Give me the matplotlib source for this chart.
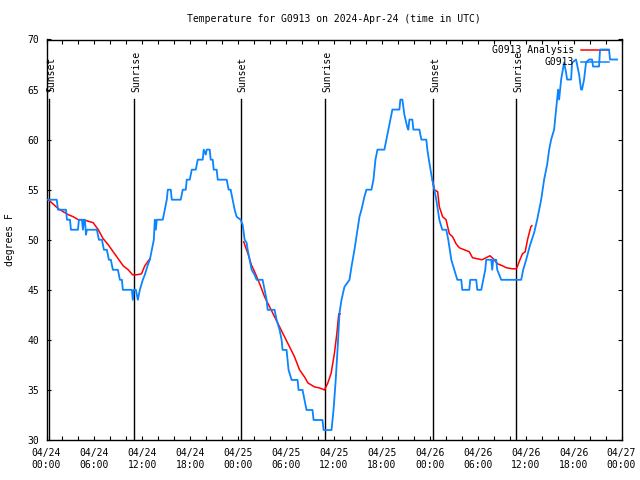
import numpy as np
import matplotlib
matplotlib.use('Agg')
import matplotlib.pyplot as plt
from matplotlib.lines import Line2D

plt.rcParams['font.family'] = 'DejaVu Sans Mono'
plt.rcParams['font.size'] = 7

# hours since 2024-04-24 00:00 UTC
obs_hours = [0.19, 1.28, 1.44, 2.44, 2.56, 2.94, 3.06, 3.94, 4.06, 4.44, 4.56, 4.69, 4.81, 4.94, 5.06,
             6.31, 6.56, 6.94, 7.19, 7.56, 7.81, 8.06, 8.31, 8.94, 9.19, 9.44, 9.56, 10.69, 10.81, 10.94,
             11.19, 11.44, 11.69, 12.06, 12.31, 12.69, 12.94, 13.19, 13.44, 13.56, 13.69, 13.81, 14.56,
             14.81, 15.06, 15.19, 15.56, 15.69, 16.81, 17.06, 17.44, 17.56, 17.94, 18.19, 18.69, 18.94,
             19.56, 19.69, 19.94, 20.06, 20.44, 20.56, 20.81, 20.94, 21.31, 21.44, 22.56, 22.81, 23.06,
             23.31, 23.56, 23.81, 24.31, 24.56, 24.81, 25.06, 25.19, 25.44, 25.69, 26.06, 26.31, 27.06,
             27.31, 27.56, 27.69, 28.56, 28.81, 29.19, 29.44, 29.56, 30.06, 30.19, 30.31, 30.69, 31.44,
             31.56, 32.06, 32.31, 32.56, 33.31, 33.44, 34.56, 34.69, 35.69, 35.94, 36.19, 36.44, 36.69,
             36.94, 37.31, 37.94, 38.19, 38.56, 38.94, 39.19, 39.44, 39.81, 40.06, 40.69, 40.94, 41.19,
             41.44, 42.31, 42.56, 42.81, 43.06, 43.31, 44.19, 44.31, 44.56, 44.81, 45.19, 45.31, 45.44,
             45.81, 45.94, 46.69, 46.94, 47.56, 47.69, 47.94, 48.19, 48.44, 48.69, 48.81, 49.19, 49.56,
             50.06, 50.31, 50.69, 51.06, 51.44, 51.94, 52.06, 52.94, 53.06, 53.81, 53.94, 54.44, 54.69,
             54.94, 55.06, 55.69, 55.81, 55.94, 56.31, 56.44, 56.94, 59.44, 59.69, 60.06, 60.56, 61.06,
             61.44, 61.94, 62.31, 62.69, 62.94, 63.19, 63.56, 63.81, 63.94, 64.06, 64.19, 64.44, 64.81,
             65.06, 65.19, 65.69, 65.81, 66.31, 66.69, 66.94, 67.06, 67.31, 67.56, 67.94, 68.31, 68.44,
             69.19, 69.31, 70.44, 70.56, 71.44]
obs_temp = [54, 54, 53, 53, 52, 52, 51, 51, 52, 52, 51, 52, 52, 50.5, 51,
            51, 50, 50, 49, 49, 48, 48, 47, 47, 46, 46, 45, 45, 44, 45,
            45, 44, 45, 46, 46.5, 47.5, 48, 49, 50, 52, 51, 52, 52,
            53, 54, 55, 55, 54, 54, 55, 55, 56, 56, 57, 57, 58,
            58, 59, 58.5, 59, 59, 58, 58, 57, 57, 56, 56, 55, 55,
            54, 53, 52.3, 52, 51.5, 50, 49.7, 49, 48, 47, 46.5, 46, 46,
            45, 44, 43, 43, 42, 41, 40, 39, 39, 38, 37, 36, 36,
            35, 35, 34, 33, 33, 32, 32, 31, 31, 33, 35.7, 39, 42.7,
            44, 45.3, 46, 47.3, 49, 51, 52.3, 53, 54.3, 55, 55, 56, 58,
            59, 59, 60, 61, 62, 63, 63, 64, 64, 62.5, 61.2, 61, 62,
            62, 61, 61, 60, 60, 59, 57.7, 56.5, 55.5, 54.5, 54, 52, 51,
            51, 50, 48, 47, 46, 46, 45, 45, 46, 46, 45, 45, 46,
            47, 48, 48, 47, 48, 48, 47, 46, 46, 47, 48, 49.5, 50.7,
            52, 54, 56, 57.5, 59, 60, 61, 63, 64, 65, 64, 66, 67.7,
            66.7, 66, 66, 67.7, 68, 66.5, 65, 65, 66, 67.7, 68, 68, 67.3,
            67.3, 69, 69, 68, 68]

# analysis series, nan separates the three runs
ana_hours = [0.23, 1.48, 2.10, 2.73, 3.35, 3.98, 4.60, 5.85, 6.48, 7.10, 7.73, 8.35, 8.98, 9.60,
             10.23, 10.78, 11.28, 11.90, 12.31, 12.94, np.nan,
             24.69, 25.23, 25.65, 26.06, 26.69, 27.31, 27.94, 28.56, 29.19, 29.81, 30.44, 31.06,
             31.69, 32.31, 32.73, 33.56, 34.19, 34.81, 35.23, 35.65, 36.06, 36.35, 36.60, 36.78, np.nan,
             48.31, 48.56, 48.98, 49.19, 49.60, 50.03, 50.44, 50.85, 51.28, 51.69, 52.31, 52.94,
             53.35, 53.98, 54.53, 55.03, 55.53, 55.94, 56.48, 57.10, 57.60, 58.35, 58.85, 59.28,
             59.60, 59.94, 60.23, 60.65, 60.78]
ana_temp = [54, 53.1, 52.8, 52.5, 52.3, 52.0, 52.0, 51.7, 51.0, 50.1, 49.5, 48.8, 48.1, 47.4,
            47.0, 46.5, 46.5, 46.6, 47.4, 48.1, np.nan,
            49.8, 48.6, 47.5, 46.8, 45.6, 44.3, 43.3, 42.3, 41.3, 40.3, 39.3, 38.3,
            37.0, 36.3, 35.7, 35.3, 35.2, 35.0, 35.7, 36.7, 38.7, 40.6, 42.6, 42.6, np.nan,
            56, 55, 54.8, 53.3, 52.3, 52.0, 50.6, 50.3, 49.6, 49.2, 49.0, 48.8,
            48.2, 48.1, 48.0, 48.2, 48.4, 48.1, 47.6, 47.4, 47.2, 47.1, 47.1, 48.0,
            48.6, 48.8, 50.0, 51.3, 51.4]

sun_events = ['Sunset', 'Sunrise', 'Sunset', 'Sunrise', 'Sunset', 'Sunrise']
sun_hours = [0.31, 10.98, 24.3, 34.9, 48.4, 58.85]

xtick_hours = list(range(0, 73, 6))
xtick_labels = ['04/24\n00:00', '04/24\n06:00', '04/24\n12:00', '04/24\n18:00',
                '04/25\n00:00', '04/25\n06:00', '04/25\n12:00', '04/25\n18:00',
                '04/26\n00:00', '04/26\n06:00', '04/26\n12:00', '04/26\n18:00',
                '04/27\n00:00']

BLUE = '#0a84ff'
RED = '#ff0000'

fig = plt.figure(figsize=(6.4, 4.8), dpi=100)
ax = fig.add_axes([46.5/640, 40/480, 575/640, 400.5/480])

for name, h in zip(sun_events, sun_hours):
    ax.plot([h, h], [30, 64.1], color='black', lw=1.0, zorder=1)
    ax.annotate(name, xy=(h, 64.8), xytext=(1.5, 0), textcoords='offset points',
                rotation=90, ha='center', va='bottom')

ax.plot(ana_hours, ana_temp, color=RED, lw=1.1, zorder=2)
ax.plot(obs_hours, obs_temp, color=BLUE, lw=1.3, zorder=3)

ax.set_xlim(0, 72)
ax.set_ylim(30, 70)
ax.set_xticks(xtick_hours)
ax.set_xticklabels(xtick_labels)
ax.set_xticks(range(0, 73, 2), minor=True)
ax.set_yticks(range(30, 71, 5))
ax.tick_params(which='both', direction='in', length=3, width=0.8,
               top=True, right=True, labelsize=7)
ax.tick_params(axis='x', pad=6)
ax.tick_params(axis='y', pad=5)
for s in ax.spines.values():
    s.set_linewidth(1.0)

# legend drawn by hand so labels are right-aligned like the original
for i, (label, col) in enumerate([('G0913 Analysis', RED), ('G0913', BLUE)]):
    yy = 0.9738 - i * 0.030
    ax.add_line(Line2D([0.9296, 0.978], [yy, yy], transform=ax.transAxes, color=col, lw=1.1))
    ax.text(0.9174, yy, label, transform=ax.transAxes, ha='right', va='center')

fig.text(334/640, 1 - 19/480, 'Temperature for G0913 on 2024-Apr-24 (time in UTC)',
         ha='center', va='center')
fig.text(10/640, 0.5, 'degrees F', rotation=90, ha='center', va='center')

fig.savefig('out.png', dpi=100)
